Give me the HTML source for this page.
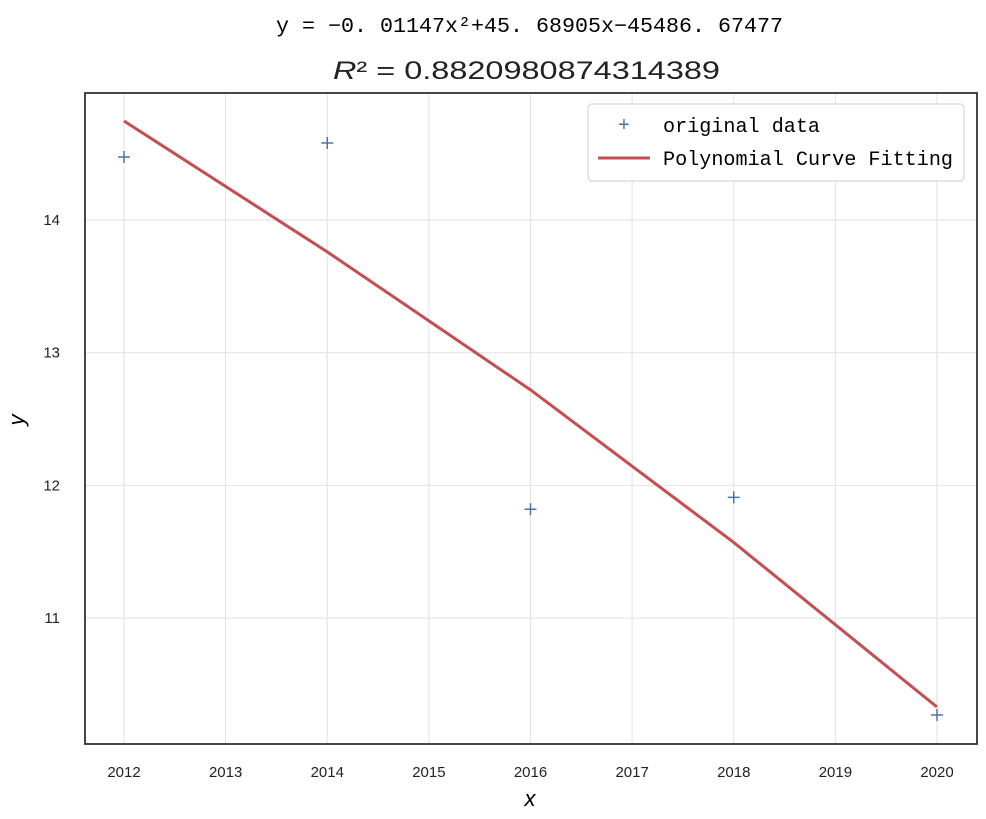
<!DOCTYPE html>
<html><head><meta charset="utf-8"><style>
body{margin:0;background:#fff;}
svg text{font-family:"Liberation Sans",sans-serif;}
</style></head><body>
<svg id="chart" width="986" height="814" xmlns="http://www.w3.org/2000/svg">
<text x="276" y="32" font-size="21" textLength="507" lengthAdjust="spacingAndGlyphs" style="font-family:'Liberation Mono',monospace">y = −0. 01147x²+45. 68905x−45486. 67477</text>
<text x="333" y="79" font-size="25" fill="#222" textLength="387" lengthAdjust="spacingAndGlyphs"><tspan font-style="italic">R</tspan>² = 0.8820980874314389</text>
<g id="grid"></g>
<g id="xticks"></g>
<g id="yticks"></g>
<g id="marks"></g>
<rect x="85" y="93" width="892" height="651" fill="none" stroke="#333" stroke-width="1.8"/>
<text x="530" y="806" font-size="22" font-style="italic" text-anchor="middle">x</text>
<text x="24" y="420" font-size="22" font-style="italic" text-anchor="middle" transform="rotate(-90 24 420)">y</text>
<g>
<rect x="588" y="104" width="376" height="77" rx="4" fill="#fff" stroke="#ccc"/>
<text x="624" y="131" font-size="20" fill="#4c72b0" text-anchor="middle">+</text>
<text x="663" y="132" font-size="20" textLength="157" lengthAdjust="spacingAndGlyphs" style="font-family:'Liberation Mono',monospace">original data</text>
<line x1="598" y1="158" x2="650" y2="158" stroke="#c44e52" stroke-width="3"/>
<text x="663" y="165" font-size="20" textLength="290" lengthAdjust="spacingAndGlyphs" style="font-family:'Liberation Mono',monospace">Polynomial Curve Fitting</text>
</g>
</svg>
<script>
const years = [2012, 2014, 2016, 2018, 2020];
const originalValues = [14.475, 14.58, 11.82, 11.91, 10.27];
const fittedValues = [14.746, 13.76, 12.72, 11.57, 10.33];
const xTickLabels = [2012, 2013, 2014, 2015, 2016, 2017, 2018, 2019, 2020];
const yTickLabels = [11, 12, 13, 14];

const NS = "http://www.w3.org/2000/svg";
function xs(v){ return 124 + (v - 2012) * (937 - 124) / 8; }
function ys(v){ return 220 + (14 - v) * 132.7; }
function mk(tag, attrs, parent){ const e = document.createElementNS(NS, tag); for (const k in attrs) e.setAttribute(k, attrs[k]); parent.appendChild(e); return e; }
const grid = document.getElementById('grid'), xt = document.getElementById('xticks'), yt = document.getElementById('yticks'), marks = document.getElementById('marks');
xTickLabels.forEach(t => {
  const l = mk('line', {x1: xs(t), x2: xs(t), y1: 93, y2: 744, stroke: '#e2e2e2', 'stroke-width': 1}, grid);
  
  
  const tx = mk('text', {x: xs(t), y: 777, 'font-size': 15, 'text-anchor': 'middle', fill: '#222'}, xt);
  tx.textContent = t;
  
  
});
yTickLabels.forEach(t => {
  const l = mk('line', {x1: 85, x2: 977, y1: ys(t), y2: ys(t), stroke: '#e2e2e2', 'stroke-width': 1}, grid);
  
  
  const tx = mk('text', {x: 60, y: ys(t) + 5, 'font-size': 15, 'text-anchor': 'end', fill: '#222'}, yt);
  tx.textContent = t;
  
  
});
const pts = years.map((y, i) => xs(y) + ',' + ys(fittedValues[i])).join(' ');
const pl = mk('polyline', {points: pts, fill: 'none', stroke: '#c44e52', 'stroke-width': 3}, marks);


years.forEach((y, i) => {
  const cx = xs(y), cy = ys(originalValues[i]);
  const p = mk('path', {d: `M${cx-6},${cy}H${cx+6}M${cx},${cy-6}V${cy+6}`, stroke: '#4c72b0', 'stroke-width': 1.5}, marks);
  
  
});
</script>
</body></html>
